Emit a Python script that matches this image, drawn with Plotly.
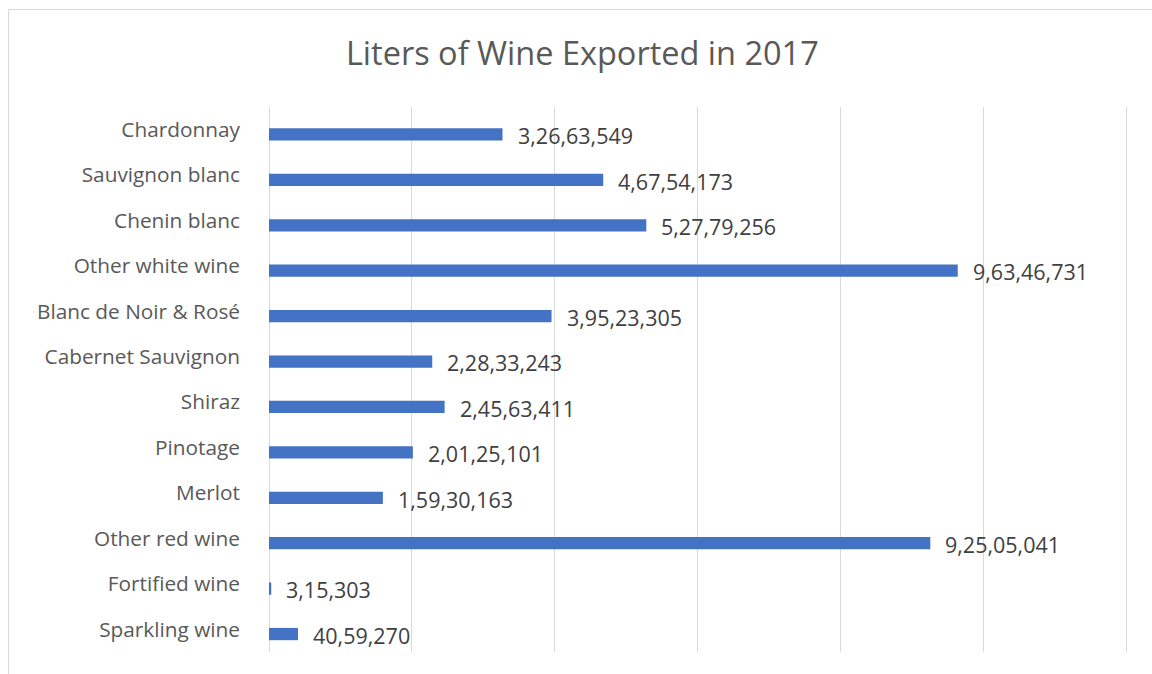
import plotly.graph_objects as go

categories = ["Chardonnay", "Sauvignon blanc", "Chenin blanc", "Other white wine",
              "Blanc de Noir & Rosé", "Cabernet Sauvignon", "Shiraz", "Pinotage",
              "Merlot", "Other red wine", "Fortified wine", "Sparkling wine"]
values = [32663549, 46754173, 52779256, 96346731,
          39523305, 22833243, 24563411, 20125101,
          15930163, 92505041, 315303, 4059270]


def indian_format(n):
    s = str(int(n))
    if len(s) <= 3:
        return s
    last3 = s[-3:]
    rest = s[:-3]
    groups = []
    while len(rest) > 2:
        groups.insert(0, rest[-2:])
        rest = rest[:-2]
    if rest:
        groups.insert(0, rest)
    return ",".join(groups + [last3])


labels = [indian_format(v) for v in values]
FONT = "Open Sans"
TXT = "#595959"

fig = go.Figure()
fig.add_trace(go.Bar(
    x=values, y=categories, orientation="h",
    marker=dict(color="#4472C4", line=dict(width=0)),
    width=0.27, offset=-0.03,
    hoverinfo="x+y",
))

for c, v, t in zip(categories, values, labels):
    fig.add_annotation(x=v, y=c, xref="x", yref="y", text=t, showarrow=False,
                       xanchor="left", yanchor="middle", xshift=13, yshift=-6,
                       font=dict(family=FONT, size=21.5, color="#404040"))

fig.update_layout(
    width=1152, height=674,
    margin=dict(l=269, r=18, t=107, b=22),
    paper_bgcolor="white", plot_bgcolor="white",
    showlegend=False,
    title=dict(text="Liters of Wine Exported in 2017", x=0.5055, xanchor="center",
               y=0.921, yanchor="middle",
               font=dict(family=FONT, size=32.5, color=TXT)),
    xaxis=dict(range=[0, 121e6], dtick=20e6, showticklabels=False,
               showgrid=True, gridcolor="#d9d9d9", gridwidth=1,
               zeroline=True, zerolinecolor="#d9d9d9", zerolinewidth=1,
               showline=False, fixedrange=True),
    yaxis=dict(autorange="reversed", showgrid=False, zeroline=False, showline=False,
               ticks="", ticklabelstandoff=28,
               tickfont=dict(family=FONT, size=20.8, color=TXT)),
    shapes=[dict(type="rect", xref="paper", yref="paper",
                 x0=(8.5 - 269) / 865, x1=(1160 - 269) / 865,
                 y0=(652 - 680) / 545, y1=(652 - 9.5) / 545,
                 line=dict(color="#d9d9d9", width=1), fillcolor="rgba(0,0,0,0)",
                 layer="below")],
)

fig.write_html("out.html")
